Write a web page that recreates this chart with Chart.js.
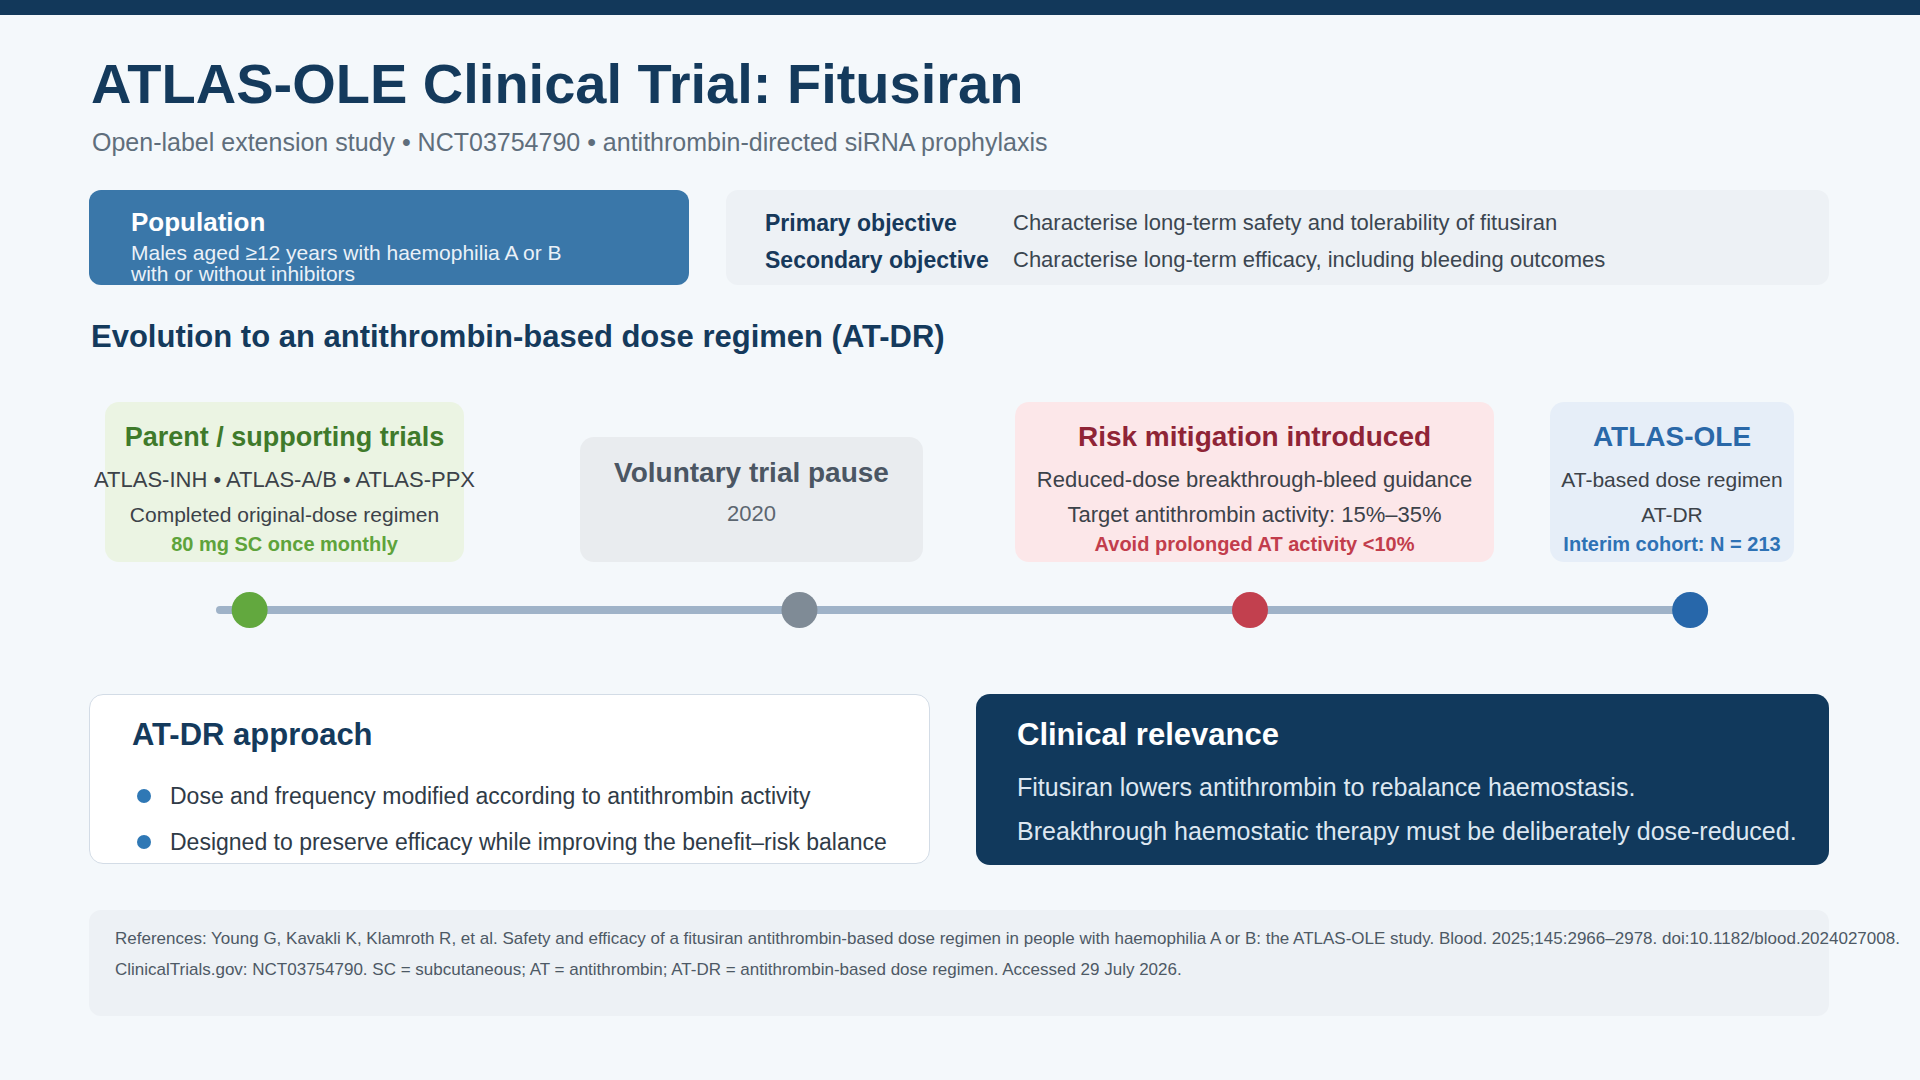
<!DOCTYPE html>
<html>
<head>
<meta charset="utf-8">
<script src="https://cdn.jsdelivr.net/npm/chart.js@4.4.1/dist/chart.umd.min.js"></script>
<style>
  html, body { margin: 0; padding: 0; }
  body { width: 1920px; height: 1080px; background: #f4f8fb; position: relative; overflow: hidden;
         font-family: "Liberation Sans", Arial, Helvetica, sans-serif; }
  .abs { position: absolute; }
  .t { position: absolute; white-space: nowrap; }
  .c { text-align: center; }
  .box { position: absolute; border-radius: 14px; }
  .b { font-weight: bold; }
</style>
</head>
<body>
<div class="abs" style="left:0;top:0;width:1920px;height:15px;background:#12385a;"></div>

<div class="t b" style="left:91px;top:52px;font-size:56px;line-height:64px;color:#143a5c;">ATLAS-OLE Clinical Trial: Fitusiran</div>
<div class="t" style="left:92px;top:127px;font-size:25px;line-height:30px;color:#5f6e7c;">Open-label extension study • NCT03754790 • antithrombin-directed siRNA prophylaxis</div>

<!-- Population -->
<div class="box" style="left:89px;top:190px;width:600px;height:95px;background:#3a77a9;border-radius:12px;"></div>
<div class="t b" style="left:131px;top:207px;font-size:26px;line-height:30px;color:#ffffff;">Population</div>
<div class="t" style="left:131px;top:242px;font-size:21px;line-height:21px;color:#eaf1f8;">Males aged ≥12 years with haemophilia A or B<br>with or without inhibitors</div>

<!-- Objectives -->
<div class="box" style="left:726px;top:190px;width:1103px;height:95px;background:#edf1f5;border-radius:12px;"></div>
<div class="t b" style="left:765px;top:209px;font-size:23px;line-height:28px;color:#17395b;">Primary objective</div>
<div class="t b" style="left:765px;top:246px;font-size:23px;line-height:28px;color:#17395b;">Secondary objective</div>
<div class="t" style="left:1013px;top:209px;font-size:22px;line-height:28px;color:#3b4650;">Characterise long-term safety and tolerability of fitusiran</div>
<div class="t" style="left:1013px;top:246px;font-size:22px;line-height:28px;color:#3b4650;">Characterise long-term efficacy, including bleeding outcomes</div>

<div class="t b" style="left:91px;top:319px;font-size:31px;line-height:36px;color:#143a5c;">Evolution to an antithrombin-based dose regimen (AT-DR)</div>

<!-- Cards -->
<div id="cards"></div>

<!-- Timeline chart -->
<div class="abs" style="left:180px;top:570px;width:1560px;height:80px;">
  <canvas id="timeline"></canvas>
</div>

<!-- AT-DR approach -->
<div class="box" style="left:89px;top:694px;width:839px;height:168px;background:#ffffff;border:1.5px solid #d3dce6;border-radius:14px;"></div>
<div class="t b" style="left:132px;top:717px;font-size:31px;line-height:36px;color:#143a5c;">AT-DR approach</div>
<div class="abs" style="left:137px;top:789px;width:14px;height:14px;border-radius:7px;background:#2f78b5;"></div>
<div class="abs" style="left:137px;top:835px;width:14px;height:14px;border-radius:7px;background:#2f78b5;"></div>
<div class="t" style="left:170px;top:782px;font-size:23px;line-height:28px;color:#2f3b47;">Dose and frequency modified according to antithrombin activity</div>
<div class="t" style="left:170px;top:828px;font-size:23px;line-height:28px;color:#2f3b47;">Designed to preserve efficacy while improving the benefit–risk balance</div>

<!-- Clinical relevance -->
<div class="box" style="left:976px;top:694px;width:853px;height:171px;background:#11395c;border-radius:14px;"></div>
<div class="t b" style="left:1017px;top:717px;font-size:31px;line-height:36px;color:#ffffff;">Clinical relevance</div>
<div class="t" style="left:1017px;top:772px;font-size:25px;line-height:30px;color:#dde7f1;">Fitusiran lowers antithrombin to rebalance haemostasis.</div>
<div class="t" style="left:1017px;top:816px;font-size:25px;line-height:30px;color:#dde7f1;">Breakthrough haemostatic therapy must be deliberately dose-reduced.</div>

<!-- References -->
<div class="box" style="left:89px;top:910px;width:1740px;height:106px;background:#edf1f5;border-radius:12px;"></div>
<div class="t" style="left:115px;top:928px;font-size:17px;line-height:22px;color:#4d5965;">References: Young G, Kavakli K, Klamroth R, et al. Safety and efficacy of a fitusiran antithrombin-based dose regimen in people with haemophilia A or B: the ATLAS-OLE study. Blood. 2025;145:2966–2978. doi:10.1182/blood.2024027008.</div>
<div class="t" style="left:115px;top:959px;font-size:17px;line-height:22px;color:#4d5965;">ClinicalTrials.gov: NCT03754790. SC = subcutaneous; AT = antithrombin; AT-DR = antithrombin-based dose regimen. Accessed 29 July 2026.</div>

<script>
// ---- Data ----
const stageTitles = ["Parent / supporting trials", "Voluntary trial pause", "Risk mitigation introduced", "ATLAS-OLE"];
const stageLine1 = ["ATLAS-INH • ATLAS-A/B • ATLAS-PPX", "2020", "Reduced-dose breakthrough-bleed guidance", "AT-based dose regimen"];
const stageLine2 = ["Completed original-dose regimen", "", "Target antithrombin activity: 15%–35%", "AT-DR"];
const stageNote = ["80 mg SC once monthly", "", "Avoid prolonged AT activity <10%", "Interim cohort: N = 213"];
const stagePositions = [2, 39.1, 69.5, 99.2];   // position along the timeline (0–100)
const trackRange = [0, 100];

// ---- Styles (kept separate from data) ----
const cardStyles = [
  { left: 105, top: 402, width: 359, height: 160, bg: "#ebf4e3", title: "#3f7a2b", body: "#3c4249", note: "#5ea33b", tSize: 27, s1: 22, s2: 21 },
  { left: 580, top: 437, width: 343, height: 125, bg: "#e9ecef", title: "#4b5663", body: "#5c6670", note: "#5c6670", tSize: 28, s1: 22, s2: 22 },
  { left: 1015, top: 402, width: 479, height: 160, bg: "#fce7e9", title: "#8f2436", body: "#3c4249", note: "#c23d4c", tSize: 28, s1: 22, s2: 22 },
  { left: 1550, top: 402, width: 244, height: 160, bg: "#e6eef8", title: "#2a68a8", body: "#3c4249", note: "#2e72b5", tSize: 28, s1: 21, s2: 21 }
];
const dotColors = ["#62a83e", "#7f8b96", "#c2404e", "#2767aa"];

const cards = document.getElementById('cards');
stageTitles.forEach((title, i) => {
  const s = cardStyles[i];
  const short = s.height < 150;
  const box = document.createElement('div');
  box.className = 'box';
  box.style.cssText = `left:${s.left}px;top:${s.top}px;width:${s.width}px;height:${s.height}px;background:${s.bg};`;
  cards.appendChild(box);
  const cx = s.left + s.width / 2;
  const addText = (txt, centerY, size, color, bold) => {
    if (!txt) return;
    const d = document.createElement('div');
    d.className = 't c' + (bold ? ' b' : '');
    d.style.cssText = `left:${cx - 400}px;width:800px;top:${centerY - 15}px;line-height:30px;font-size:${size}px;color:${color};`;
    d.textContent = txt;
    cards.appendChild(d);
  };
  if (short) {
    addText(title, 473, s.tSize, s.title, true);
    addText(stageLine1[i], 514, s.s1, s.body, false);
  } else {
    addText(title, 437, s.tSize, s.title, true);
    addText(stageLine1[i], 480, s.s1, s.body, false);
    addText(stageLine2[i], 515, s.s2, s.body, false);
    addText(stageNote[i], 544, 20, s.note, true);
  }
});

new Chart(document.getElementById('timeline'), {
  type: 'scatter',
  data: {
    datasets: [
      {
        label: 'track',
        data: trackRange.map(x => ({ x: x, y: 0 })),
        showLine: true,
        borderColor: '#9fb3c8',
        borderWidth: 8,
        borderCapStyle: 'round',
        pointRadius: 0,
        order: 2
      },
      {
        label: 'stages',
        data: stagePositions.map(x => ({ x: x, y: 0 })),
        pointRadius: 18,
        pointHoverRadius: 18,
        pointBackgroundColor: dotColors,
        pointBorderWidth: 0,
        borderWidth: 0,
        order: 1
      }
    ]
  },
  options: {
    responsive: true,
    maintainAspectRatio: false,
    animation: false,
    clip: false,
    layout: { padding: { left: 40, right: 38, top: 0, bottom: 0 } },
    scales: {
      x: { type: 'linear', min: 0, max: 100, display: false },
      y: { min: -1, max: 1, display: false }
    },
    plugins: { legend: { display: false }, tooltip: { enabled: false } }
  }
});
</script>
</body>
</html>
